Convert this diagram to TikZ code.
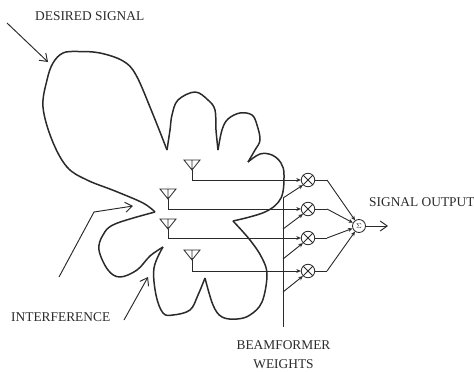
\documentclass[tikz,border=0pt]{standalone}
\usepackage{fontspec}
\setmainfont{Liberation Serif}
\usepackage{amsmath}
\usetikzlibrary{arrows.meta,positioning,calc}
\definecolor{inkgrey}{HTML}{2A2A2A}
\begin{document}
\begin{tikzpicture}[x=1pt,y=-1pt,font=\fontsize{13.4pt}{15pt}\selectfont,text=inkgrey,
  lobe/.style={draw=inkgrey, line width=1.5pt, line join=round},
  arr/.style={-{Stealth[length=4.5pt,width=4pt]}, draw=inkgrey, line width=.9pt},
  bigarr/.style={-{Straight Barb[length=7pt,width=10pt]}, draw=inkgrey, line width=.95pt},
  wire/.style={draw=inkgrey, line width=1pt},
  mixer/.style={draw=inkgrey, circle, line width=.85pt, minimum size=13.5pt, inner sep=0pt, path picture={
    \draw[inkgrey, line width=.8pt] (path picture bounding box.north west)--(path picture bounding box.south east)
    (path picture bounding box.north east)--(path picture bounding box.south west);}},
  sumnode/.style={draw=inkgrey, circle, line width=.85pt, minimum size=13pt, inner sep=0pt, font=\fontsize{7pt}{7pt}\selectfont},
  ant/.pic={\draw[inkgrey, line width=.85pt] (-8,-10)--(8,-10)--(0,0)--cycle (0,-10)--(0,0);}]
\useasboundingbox (0,0) rectangle (474,372);
% radiation pattern
\draw[lobe] plot[smooth,tension=.6] coordinates {(155,212) (143,203) (115,191) (87,180) (67,167) (52,140) (43,107) (47,80) (53,63) (63,53) (78,51.5) (100,53) (123,61) (136,75) (152,112) (167,150)};
\draw[lobe] plot[smooth,tension=.6] coordinates {(167,150) (170,130) (172,115) (178,100) (195,92) (208,100) (215,110) (216,130) (218,150)};
\draw[lobe] plot[smooth,tension=.6] coordinates {(218,150) (222,130) (228,119) (240,113) (252,115) (257,125) (260,140) (255,150) (248,162)};
\draw[lobe] plot[smooth,tension=.6] coordinates {(248,162) (260,154) (272,155) (281,163) (284,175) (281,198) (265,212) (233,221)};
\draw[lobe] plot[smooth,tension=.6] coordinates {(233,221) (250,240) (262,258) (267,275) (262,302) (250,315) (237,319) (222,317) (213,305) (205,278)};
\draw[lobe] plot[smooth,tension=.6] coordinates {(205,278) (198,295) (190,310) (173,315) (163,313) (156,295) (154,268) (163,247)};
\draw[lobe] plot[smooth,tension=.6] coordinates {(163,247) (150,256) (137,270) (120,277) (108,270) (99,250) (103,235) (115,224) (155,212)};
% antennas
\coordinate (a1) at (192,170);
\coordinate (a2) at (168,199);
\coordinate (a3) at (168,229);
\coordinate (a4) at (192,260);
\foreach \i in {1,...,4} \pic at (a\i) {ant};
% mixers
\node[mixer] (m1) at (308,180) {};
\node[mixer] (m2) at (308,209) {};
\node[mixer] (m3) at (308,238) {};
\node[mixer] (m4) at (308,271) {};
\node[sumnode] (s) at (359,226) {$\Sigma$};
\coordinate (k1) at (327,180);
\coordinate (k2) at (327,209);
\coordinate (k3) at (327,238);
\coordinate (k4) at (327,271);
\foreach \i in {1,...,4} {
  \draw[arr] (a\i) |- (m\i.west);
  \draw[wire] (m\i.east) -- (k\i);
  \draw[arr] (k\i) -- (s);
}
% weights
\coordinate (w0) at (283,198);
\coordinate (w1) at (283,229);
\coordinate (w2) at (283,259);
\coordinate (w3) at (283,292);
\coordinate (wb) at (283,327);
\draw[wire] (w0) -- (wb);
\draw[arr] (w0) -- (m1.south west);
\draw[arr] (w1) -- (m2.south west);
\draw[arr] (w2) -- (m3.south west);
\draw[arr] (w3) -- (m4.south west);
% output
\coordinate (out) at (388,226);
\draw[bigarr] (s) -- (out);
% labels
\node[anchor=west,inner sep=0pt] (ds) at (35,16) {DESIRED SIGNAL};
\node[anchor=west,inner sep=0pt] (so) at (369,202.5) {SIGNAL OUTPUT};
\node[anchor=west,inner sep=0pt] (inf) at (11,317) {INTERFERENCE};
\node[inner sep=0pt] (bw) at (283.5,345.5) {BEAMFORMER};
\node[inner sep=0pt] (bw2) at (283.5,364.5) {WEIGHTS};
% incoming arrows
\coordinate (d0) at (7,23);
\coordinate (d1) at (48,62);
\draw[bigarr] (d0) -- (d1);
\coordinate (i0) at (59,277);
\coordinate (i1) at (94,212);
\coordinate (i2) at (133,206);
\draw[bigarr] (i0) -- (i1) -- (i2);
\coordinate (j0) at (124,320);
\coordinate (j1) at (148,277);
\draw[bigarr] (j0) -- (j1);
\end{tikzpicture}
\end{document}
